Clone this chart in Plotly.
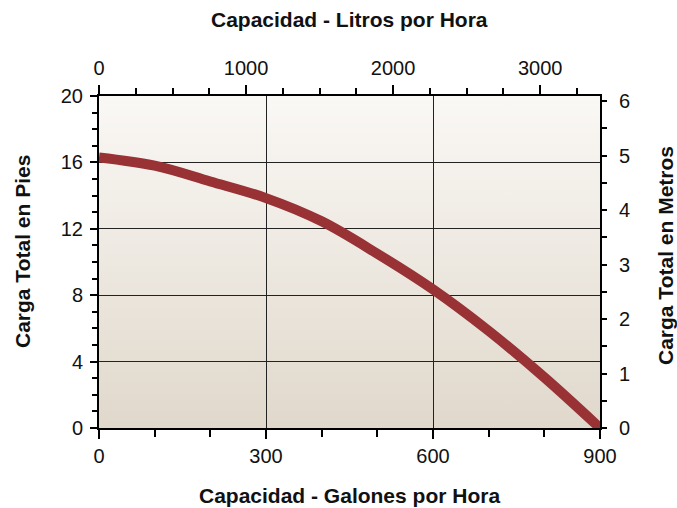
import base64
import plotly.graph_objects as go

# ---- data ----
gallons_per_hour = [0, 100, 200, 300, 400, 500, 600, 700, 800, 900]
head_feet = [16.3, 15.8, 14.85, 13.85, 12.45, 10.5, 8.35, 5.85, 3.05, 0.0]

GAL_TO_L = 3.78541
FT_TO_M = 0.3048
liters_per_hour = [g * GAL_TO_L for g in gallons_per_hour]
head_meters = [f * FT_TO_M for f in head_feet]

x_bottom_ticks = [0, 300, 600, 900]
y_left_ticks = [0, 4, 8, 12, 16, 20]
x_top_ticks = [0, 1000, 2000, 3000]
y_right_ticks = [0, 1, 2, 3, 4, 5, 6]

title_top = "Capacidad - Litros por Hora"
title_bottom = "Capacidad - Galones por Hora"
title_left = "Carga Total en Pies"
title_right = "Carga Total en Metros"

FONT = "Liberation Sans, Arial, Helvetica, sans-serif"
CURVE = "#983234"

svg = ('<svg xmlns="http://www.w3.org/2000/svg" width="10" height="100" preserveAspectRatio="none">'
       '<defs><linearGradient id="g" x1="0" y1="0" x2="0" y2="1">'
       '<stop offset="0" stop-color="#faf8f5"/><stop offset="1" stop-color="#e0d8cb"/>'
       '</linearGradient></defs><rect width="10" height="100" fill="url(#g)"/></svg>')
bg_src = "data:image/svg+xml;base64," + base64.b64encode(svg.encode()).decode()

fig = go.Figure()
fig.add_trace(go.Scatter(
    x=gallons_per_hour, y=head_feet, mode="lines",
    line=dict(color=CURVE, width=10, shape="spline", smoothing=1.0),
    hoverinfo="skip", showlegend=False,
))
# secondary-unit trace (invisible) to anchor the top/right axes
fig.add_trace(go.Scatter(
    x=liters_per_hour, y=head_meters, mode="lines", xaxis="x2", yaxis="y2",
    line=dict(color="rgba(0,0,0,0)", width=0), hoverinfo="skip", showlegend=False,
))

tickfont = dict(family=FONT, size=20, color="#111")
common = dict(showline=True, linecolor="black", linewidth=2, ticks="outside",
              tickcolor="black", tickwidth=1.5, zeroline=False, tickfont=tickfont)

fig.update_layout(
    width=677, height=508,
    margin=dict(l=99, r=77, t=96, b=80),
    paper_bgcolor="white", plot_bgcolor="rgba(0,0,0,0)",
    font=dict(family=FONT),
    xaxis=dict(range=[0, 900], tickvals=x_bottom_ticks, ticklen=9,
               showgrid=True, gridcolor="#222", gridwidth=1,
               minor=dict(dtick=100, ticklen=7, ticks="outside", tickcolor="black", tickwidth=1.5, showgrid=False),
               **common),
    yaxis=dict(range=[0, 20], tickvals=y_left_ticks, ticklen=7, ticklabelstandoff=3,
               showgrid=True, gridcolor="#222", gridwidth=1,
               minor=dict(dtick=1, ticklen=5, ticks="outside", tickcolor="black", tickwidth=1.5, showgrid=False),
               **common),
    xaxis2=dict(range=[0, 900 * GAL_TO_L], tickvals=x_top_ticks, ticklen=9, ticklabelstandoff=2,
                overlaying="x", side="top", anchor="y", showgrid=False,
                minor=dict(dtick=250, ticklen=6, ticks="outside", tickcolor="black", tickwidth=1.5, showgrid=False),
                **common),
    yaxis2=dict(range=[0, 20 * FT_TO_M], tickvals=y_right_ticks, ticklen=5, ticklabelstandoff=8,
                overlaying="y", side="right", anchor="x", showgrid=False,
                minor=dict(dtick=0.5, ticklen=5, ticks="outside", tickcolor="black", tickwidth=1.5, showgrid=False),
                **common),
    images=[dict(source=bg_src, xref="paper", yref="paper", x=0, y=1, sizex=1, sizey=1,
                 xanchor="left", yanchor="top", sizing="stretch", layer="below")],
    annotations=[
        dict(text=title_top, x=0.5, y=(428 - 19) / 332, xref="paper", yref="paper",
             showarrow=False, xanchor="center", yanchor="middle",
             font=dict(family=FONT, size=21, color="#111", weight="bold")),
        dict(text=title_bottom, x=0.5, y=(428 - 496) / 332, xref="paper", yref="paper",
             showarrow=False, xanchor="center", yanchor="middle",
             font=dict(family=FONT, size=21, color="#111", weight="bold")),
        dict(text=title_left, x=(22 - 99) / 501, y=(428 - 252) / 332, xref="paper", yref="paper",
             showarrow=False, xanchor="center", yanchor="middle", textangle=-90,
             font=dict(family=FONT, size=21, color="#111", weight="bold")),
        dict(text=title_right, x=(665 - 99) / 501, y=(428 - 256) / 332, xref="paper", yref="paper",
             showarrow=False, xanchor="center", yanchor="middle", textangle=-90,
             font=dict(family=FONT, size=21, color="#111", weight="bold")),
    ],
)

fig.write_html("out.html", config={"displayModeBar": False},
               post_script="document.body.style.margin='0px';")
